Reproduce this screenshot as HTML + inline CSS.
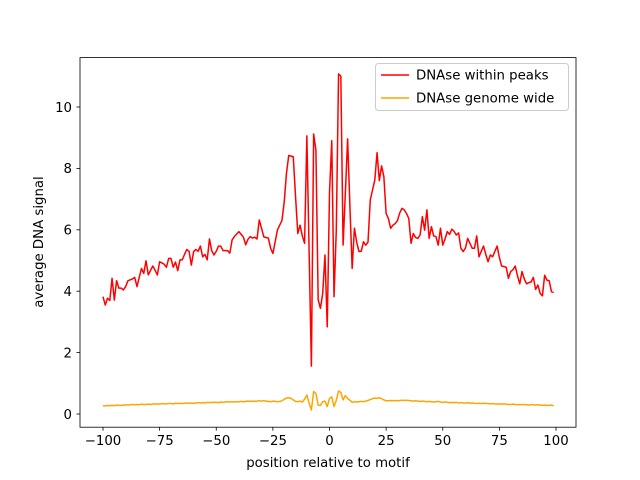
<!DOCTYPE html>
<html><head><meta charset="utf-8"><style>
body{margin:0;background:#fff}
svg{display:block;font-family:"DejaVu Sans","Liberation Sans",sans-serif}
</style></head><body>
<svg id="chart" width="640" height="480" xmlns="http://www.w3.org/2000/svg">
<rect width="640" height="480" fill="#fff"/>
<g id="plot"></g>
<rect x="80" y="57.6" width="496" height="369.6" fill="none" stroke="#000" stroke-width="0.8"/>
<g id="axes"></g>
<text x="328" y="467" font-size="13.3" text-anchor="middle">position relative to motif</text>
<text transform="translate(43,242) rotate(-90)" font-size="13.3" text-anchor="middle">average DNA signal</text>
<g>
<rect x="375.5" y="63.5" width="193" height="47" rx="3" fill="#fff" fill-opacity="0.8" stroke="#ccc"/>
<line x1="381" y1="75" x2="409" y2="75" stroke="#ff0000" stroke-width="1.5"/>
<text x="416" y="79.5" font-size="13.3">DNAse within peaks</text>
<line x1="381" y1="98" x2="409" y2="98" stroke="#ffa500" stroke-width="1.5"/>
<text x="416" y="102.5" font-size="13.3">DNAse genome wide</text>
</g>
</svg>
<script>
const peaks=[3.82,3.55,3.77,3.7,4.42,3.71,4.34,4.1,4.1,4.04,
4.15,4.34,4.37,4.4,4.45,4.15,4.45,4.74,4.58,4.99,
4.53,4.68,4.82,4.68,4.53,4.96,4.92,4.88,4.78,5.07,
5.07,4.78,4.95,4.67,5.02,5.02,5.2,5.36,5.3,4.85,
5.29,5.36,5.3,5.47,5.12,5.2,5.02,5.7,5.32,5.18,
5.3,5.47,5.47,5.32,5.32,5.32,5.24,5.67,5.78,5.86,
5.94,5.85,5.76,5.51,5.69,5.78,5.73,5.76,5.7,6.32,
6.05,5.77,5.75,5.73,5.4,5.23,5.6,5.99,6.15,6.3,
6.9,7.84,8.42,8.4,8.38,7.1,5.88,6.15,5.8,5.56,
9.06,5.3,1.56,9.12,8.6,3.72,3.44,3.93,5.18,2.84,
7.2,8.9,3.82,6.0,11.08,11.0,5.5,7.2,8.96,6.8,
4.74,6.05,5.6,5.29,5.3,5.61,5.5,5.6,6.97,7.3,
7.62,8.51,7.6,8.08,7.73,6.53,6.37,6.05,6.15,6.2,
6.3,6.55,6.7,6.65,6.53,6.37,5.56,5.88,5.75,5.72,
5.83,6.43,5.99,6.65,5.72,6.1,5.8,5.78,5.5,6.05,
5.5,5.7,5.94,5.85,6.02,5.95,5.83,5.9,5.4,5.29,
5.4,5.72,5.56,5.4,5.4,5.8,5.12,5.3,5.47,5.2,
4.96,5.18,5.12,5.3,5.47,5.1,4.82,4.8,4.78,4.42,
4.64,4.7,4.82,4.5,4.24,4.64,4.4,4.24,4.28,4.3,
4.45,4.06,4.2,3.93,3.85,4.52,4.36,4.34,3.98,3.96];
const genome=[.27,.26,.28,.27,.28,.27,.29,.28,.28,.29,
.30,.29,.30,.31,.30,.31,.30,.32,.31,.31,
.32,.31,.33,.32,.33,.32,.34,.33,.33,.34,
.34,.33,.35,.34,.35,.34,.35,.36,.35,.36,
.35,.36,.37,.36,.37,.36,.38,.37,.38,.38,
.38,.37,.39,.38,.39,.40,.39,.40,.39,.40,
.40,.41,.40,.41,.42,.41,.42,.41,.42,.43,
.42,.43,.42,.41,.40,.42,.41,.40,.41,.43,
.48,.52,.53,.51,.46,.41,.40,.42,.39,.48,
.62,.35,.13,.73,.67,.29,.28,.40,.42,.24,
.51,.56,.24,.45,.75,.70,.46,.60,.50,.45,
.38,.40,.39,.40,.41,.40,.42,.44,.47,.50,
.52,.51,.53,.50,.46,.43,.43,.44,.43,.44,
.43,.44,.45,.44,.45,.44,.43,.42,.43,.42,
.41,.42,.41,.40,.41,.40,.39,.40,.41,.39,
.38,.39,.38,.37,.38,.37,.38,.36,.37,.36,
.36,.37,.35,.36,.35,.34,.35,.34,.35,.34,
.34,.33,.34,.33,.32,.33,.32,.33,.32,.31,
.31,.32,.31,.30,.31,.30,.31,.30,.29,.30,
.30,.29,.30,.29,.28,.29,.28,.28,.29,.27];
const xStart=-100;
const xTicks=[-100,-75,-50,-25,0,25,50,75,100];
const yTicks=[0,2,4,6,8,10];
const NS="http://www.w3.org/2000/svg";
function sx(v){return 103+(v+100)*2.265;}
function sy(v){return 414-v*30.7;}
const plot=document.getElementById('plot'),axes=document.getElementById('axes');
function line(arr,color,name){
 const p=document.createElementNS(NS,'polyline');
 
 
 p.setAttribute('points',arr.map((v,i)=>sx(xStart+i).toFixed(2)+','+sy(v).toFixed(2)).join(' '));
 p.setAttribute('fill','none');p.setAttribute('stroke',color);p.setAttribute('stroke-width','1.5');p.setAttribute('stroke-linejoin','round');
 plot.appendChild(p);
}
line(peaks,'#ff0000','series-within-peaks');
line(genome,'#ffa500','series-genome-wide');
xTicks.forEach(t=>{
 const x=sx(t);
 const l=document.createElementNS(NS,'line');
 
 
 l.setAttribute('x1',x);l.setAttribute('x2',x);l.setAttribute('y1',427.2);l.setAttribute('y2',430.7);l.setAttribute('stroke','#000');l.setAttribute('stroke-width','0.8');
 axes.appendChild(l);
 const tx=document.createElementNS(NS,'text');
 
 
 tx.setAttribute('x',x);tx.setAttribute('y',445);tx.setAttribute('font-size','13.3');tx.setAttribute('text-anchor','middle');
 tx.textContent=t<0?'\u2212'+(-t):String(t);
 axes.appendChild(tx);
});
yTicks.forEach(t=>{
 const y=sy(t);
 const l=document.createElementNS(NS,'line');
 
 
 l.setAttribute('x1',76.5);l.setAttribute('x2',80);l.setAttribute('y1',y);l.setAttribute('y2',y);l.setAttribute('stroke','#000');l.setAttribute('stroke-width','0.8');
 axes.appendChild(l);
 const tx=document.createElementNS(NS,'text');
 
 
 tx.setAttribute('x',72);tx.setAttribute('y',y+4.8);tx.setAttribute('font-size','13.3');tx.setAttribute('text-anchor','end');
 tx.textContent=String(t);
 axes.appendChild(tx);
});
</script>
</body></html>
